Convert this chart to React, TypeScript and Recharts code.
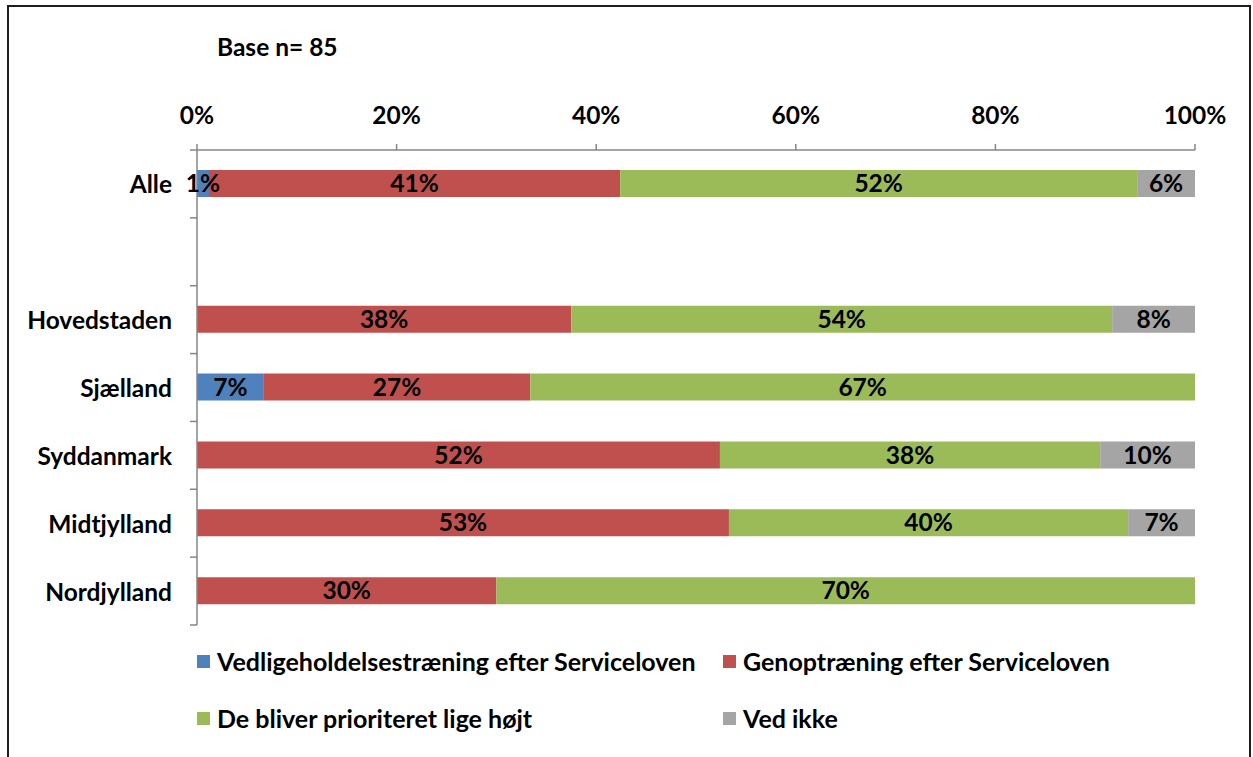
import { BarChart, Bar, XAxis, YAxis, LabelList } from "recharts";

const categories = ["Alle", "", "Hovedstaden", "Sjælland", "Syddanmark", "Midtjylland", "Nordjylland"];
const vedligehold = [1.2, 0, 0, 6.7, 0, 0, 0];
const genoptraening = [41.2, 0, 37.5, 26.7, 52.4, 53.3, 30];
const ligeHoejt = [51.8, 0, 54.2, 66.6, 38.1, 40.0, 70];
const vedIkke = [5.8, 0, 8.3, 0, 9.5, 6.7, 0];
const xTicks = [0, 20, 40, 60, 80, 100];

const series = [
  { key: "vedligehold", name: "Vedligeholdelsestræning efter Serviceloven", color: "#4F81BD" },
  { key: "genoptraening", name: "Genoptræning efter Serviceloven", color: "#C0504D" },
  { key: "ligeHoejt", name: "De bliver prioriteret lige højt", color: "#9BBB59" },
  { key: "vedIkke", name: "Ved ikke", color: "#A5A5A5" },
];

const data = categories.map((name, i) => ({
  name,
  vedligehold: vedligehold[i],
  genoptraening: genoptraening[i],
  ligeHoejt: ligeHoejt[i],
  vedIkke: vedIkke[i],
}));

const W = 1253;
const H = 757;
const MARGIN = { top: 120, right: 58, bottom: 132, left: 0 };
const X_AXIS_H = 30;
const BAND = (H - MARGIN.top - X_AXIS_H - MARGIN.bottom) / categories.length;
const FONT = "Lato, 'Noto Sans', sans-serif";
const FS = 24.5;
const AXIS = "#868686";

function CategoryTick(props: any) {
  const { x, y, payload, index } = props;
  return (
    <g>
      <line x1={x - 7} x2={x} y1={y - BAND / 2} y2={y - BAND / 2} stroke={AXIS} strokeWidth={1.5} />
      {index === categories.length - 1 && (
        <line x1={x - 7} x2={x} y1={y + BAND / 2} y2={y + BAND / 2} stroke={AXIS} strokeWidth={1.5} />
      )}
      <text
        x={x - 25}
        y={y}
        textAnchor="end"
        dominantBaseline="central"
        fontFamily={FONT}
        fontWeight={700}
        fontSize={FS}
        fill="#000"
      >
        {payload.value}
      </text>
    </g>
  );
}

const pct = (v: any) => (Number(v) > 0 ? `${Math.round(Number(v))}%` : "");

export default function App() {
  return (
    <div style={{ position: "absolute", left: 0, top: 0, width: W, height: H, overflow: "hidden", background: "#fff" }}>
      <div
        style={{
          position: "absolute",
          left: 7,
          top: 5,
          width: 1244,
          height: 752,
          boxSizing: "border-box",
          border: "2px solid #1e1e1e",
          borderBottom: "none",
        }}
      />
      <div
        style={{
          position: "absolute",
          left: 217,
          top: 34,
          fontFamily: FONT,
          fontWeight: 700,
          fontSize: FS,
          lineHeight: "26px",
          color: "#000",
        }}
      >
        Base n= 85
      </div>
      <div style={{ position: "absolute", left: 0, top: 0 }}>
        <BarChart width={W} height={H} data={data} layout="vertical" margin={MARGIN} barSize={27}>
          <XAxis
            type="number"
            orientation="top"
            domain={[0, 100]}
            ticks={xTicks}
            height={X_AXIS_H}
            tickFormatter={(v) => `${v}%`}
            axisLine={{ stroke: AXIS, strokeWidth: 1.5 }}
            tickLine={{ stroke: AXIS, strokeWidth: 1.5 }}
            tickSize={6}
            tickMargin={20}
            tick={{ fontFamily: FONT, fontWeight: 700, fontSize: FS, fill: "#000" }}
          />
          <YAxis
            type="category"
            dataKey="name"
            width={197}
            interval={0}
            tickLine={false}
            tickSize={0}
            tickMargin={0}
            axisLine={{ stroke: AXIS, strokeWidth: 1.5 }}
            tick={<CategoryTick />}
          />
          {series.map((s) => (
            <Bar key={s.key} dataKey={s.key} name={s.name} stackId="a" fill={s.color} isAnimationActive={false}>
              <LabelList
                dataKey={s.key}
                position="center"
                formatter={pct}
                fill="#000"
                fontFamily={FONT}
                fontWeight={700}
                fontSize={FS}
              />
            </Bar>
          ))}
        </BarChart>
      </div>
      <div
        style={{
          position: "absolute",
          left: 197,
          top: 647,
          display: "grid",
          gridTemplateColumns: "526px 500px",
          rowGap: 29,
          fontFamily: FONT,
          fontWeight: 700,
          fontSize: 25,
          color: "#000",
        }}
      >
        {series.map((s) => (
          <div key={s.key} style={{ display: "flex", alignItems: "center", height: 28, whiteSpace: "nowrap" }}>
            <span style={{ display: "inline-block", width: 13, height: 13, background: s.color, marginRight: 7 }} />
            {s.name}
          </div>
        ))}
      </div>
    </div>
  );
}
